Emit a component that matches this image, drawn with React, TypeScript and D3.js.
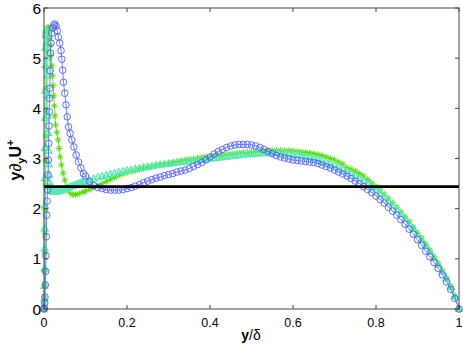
import React from "react";
import * as d3 from "d3";

// ---------- data ----------
const X_TICKS = [0, 0.2, 0.4, 0.6, 0.8, 1];
const X_TICK_LABELS = ["0", "0.2", "0.4", "0.6", "0.8", "1"];
const Y_TICKS = [0, 1, 2, 3, 4, 5, 6];
const Y_TICK_LABELS = ["0", "1", "2", "3", "4", "5", "6"];
const LOG_LAW_LEVEL = 2.44; // 1/kappa

// shared outer grid (y/delta)
const X_OUTER = [
  0.10, 0.11, 0.12, 0.13, 0.14, 0.15, 0.16, 0.17, 0.18, 0.19,
  0.20, 0.21, 0.22, 0.23, 0.24, 0.25, 0.26, 0.27, 0.28, 0.29,
  0.30, 0.31, 0.32, 0.33, 0.34, 0.35, 0.36, 0.37, 0.38, 0.39,
  0.40, 0.41, 0.42, 0.43, 0.44, 0.45, 0.46, 0.47, 0.48, 0.49,
  0.50, 0.51, 0.52, 0.53, 0.54, 0.55, 0.56, 0.57, 0.58, 0.59,
  0.60, 0.61, 0.62, 0.63, 0.64, 0.65, 0.66, 0.67, 0.68, 0.69,
  0.70, 0.71, 0.72, 0.73, 0.74, 0.75, 0.76, 0.77, 0.78, 0.79,
  0.80, 0.81, 0.82, 0.83, 0.84, 0.85, 0.86, 0.87, 0.88, 0.89,
  0.90, 0.91, 0.92, 0.93, 0.94, 0.95, 0.96, 0.97, 0.98, 0.99,
  1.00,
];

// blue circles
const BLUE_NEAR_X = [
  0, 0.0008, 0.0016, 0.0024, 0.0032, 0.004, 0.0048, 0.0056, 0.0064, 0.0075,
  0.0085, 0.0095, 0.0105, 0.0113, 0.012, 0.0127, 0.0134, 0.014, 0.0148, 0.0156,
  0.0168, 0.0185, 0.021, 0.0235, 0.0262, 0.029, 0.032, 0.0345, 0.038, 0.041,
  0.043, 0.045, 0.047, 0.05, 0.053, 0.056, 0.059, 0.063, 0.067, 0.072,
  0.0775, 0.083, 0.089, 0.095,
];
const BLUE_NEAR_V = [
  0, 0.02, 0.12, 0.24, 0.48, 0.75, 1.06, 1.44, 1.87, 2.15,
  2.37, 2.67, 2.97, 3.3, 3.65, 3.93, 4.2, 4.4, 4.75, 5.1,
  5.3, 5.5, 5.6, 5.66, 5.68, 5.64, 5.55, 5.42, 5.3, 5.15,
  4.98, 4.76, 4.52, 4.3, 4.07, 3.83, 3.63, 3.5, 3.37, 3.23,
  3.07, 2.93, 2.81, 2.7,
];
const BLUE_OUTER_V = [
  2.65, 2.54, 2.46, 2.42, 2.40, 2.38, 2.37, 2.37, 2.37, 2.38,
  2.40, 2.42, 2.45, 2.48, 2.52, 2.55, 2.58, 2.61, 2.63, 2.66,
  2.68, 2.70, 2.73, 2.75, 2.77, 2.80, 2.84, 2.88, 2.92, 2.97,
  3.03, 3.09, 3.14, 3.18, 3.22, 3.25, 3.27, 3.28, 3.28, 3.28,
  3.27, 3.25, 3.22, 3.18, 3.14, 3.10, 3.06, 3.03, 3.01, 2.99,
  2.97, 2.96, 2.95, 2.94, 2.93, 2.92, 2.90, 2.87, 2.84, 2.81,
  2.77, 2.73, 2.69, 2.65, 2.60, 2.55, 2.50, 2.44, 2.38, 2.32,
  2.25, 2.18, 2.11, 2.03, 1.95, 1.87, 1.78, 1.69, 1.59, 1.49,
  1.38, 1.27, 1.15, 1.04, 0.93, 0.81, 0.68, 0.54, 0.39, 0.21,
  0.00,
];

// green stars
const GREEN_NEAR_X = [
  0, 0.0004, 0.0008, 0.0012, 0.0016, 0.002, 0.0024, 0.0028, 0.0032, 0.0037,
  0.0042, 0.0047, 0.0052, 0.0057, 0.0063, 0.007, 0.0078, 0.0087, 0.0097, 0.0108,
  0.012, 0.0135, 0.015, 0.017, 0.019, 0.0205, 0.022, 0.0235, 0.025, 0.0265,
  0.028, 0.031, 0.034, 0.0365, 0.039, 0.042, 0.046, 0.05, 0.055, 0.061,
  0.068, 0.076, 0.085, 0.094,
];
const GREEN_NEAR_V = [
  0, 0.02, 0.14, 0.24, 0.48, 0.76, 1.12, 1.51, 1.97, 2.45,
  2.95, 3.45, 3.95, 4.4, 4.8, 5.15, 5.4, 5.55, 5.62, 5.6,
  5.52, 5.4, 5.25, 5.05, 4.85, 4.65, 4.45, 4.25, 4.05, 3.85,
  3.67, 3.52, 3.37, 3.2, 3.03, 2.87, 2.71, 2.57, 2.43, 2.33,
  2.28, 2.28, 2.3, 2.33,
];
const GREEN_OUTER_V = [
  2.35, 2.38, 2.42, 2.46, 2.50, 2.54, 2.58, 2.62, 2.66, 2.69,
  2.72, 2.74, 2.76, 2.78, 2.80, 2.82, 2.84, 2.86, 2.88, 2.89,
  2.91, 2.92, 2.94, 2.95, 2.97, 2.98, 2.99, 3.01, 3.02, 3.03,
  3.04, 3.05, 3.06, 3.07, 3.08, 3.09, 3.10, 3.11, 3.12, 3.12,
  3.13, 3.14, 3.14, 3.15, 3.15, 3.16, 3.16, 3.16, 3.16, 3.16,
  3.15, 3.14, 3.13, 3.12, 3.11, 3.10, 3.08, 3.06, 3.03, 3.00,
  2.97, 2.93, 2.89, 2.82, 2.79, 2.75, 2.70, 2.65, 2.58, 2.51,
  2.44, 2.37, 2.29, 2.21, 2.12, 2.03, 1.94, 1.84, 1.74, 1.63,
  1.52, 1.41, 1.29, 1.17, 1.04, 0.91, 0.77, 0.62, 0.45, 0.25,
  0.00,
];

// aquamarine triangles
const AQUA_NEAR_X = [
  0, 0.0003, 0.0006, 0.0009, 0.0012, 0.0015, 0.0018, 0.0021, 0.0024, 0.0027,
  0.003, 0.0033, 0.0037, 0.0041, 0.0046, 0.0052, 0.0058, 0.0065, 0.0072, 0.0079,
  0.0086, 0.0093, 0.01, 0.0108, 0.0116, 0.0125, 0.0135, 0.0147, 0.016, 0.018,
  0.02, 0.023, 0.026, 0.03, 0.035, 0.04, 0.045, 0.05, 0.055, 0.06,
  0.065, 0.07, 0.075, 0.08, 0.085, 0.09, 0.095,
];
const AQUA_NEAR_V = [
  0, 0.05, 0.2, 0.45, 0.8, 1.2, 1.6, 2.05, 2.6, 3.2,
  3.8, 4.35, 4.85, 5.2, 5.45, 5.55, 5.5, 5.3, 5.0, 4.65,
  4.25, 3.85, 3.5, 3.15, 2.88, 2.67, 2.52, 2.43, 2.38, 2.35,
  2.34, 2.33, 2.33, 2.33, 2.34, 2.35, 2.37, 2.38, 2.40, 2.42,
  2.44, 2.45, 2.47, 2.48, 2.50, 2.51, 2.53,
];
const AQUA_OUTER_V = [
  2.54, 2.56, 2.59, 2.62, 2.64, 2.66, 2.68, 2.70, 2.72, 2.74,
  2.76, 2.77, 2.79, 2.80, 2.82, 2.83, 2.84, 2.86, 2.87, 2.88,
  2.89, 2.90, 2.91, 2.92, 2.93, 2.94, 2.95, 2.96, 2.97, 2.98,
  2.99, 3.00, 3.01, 3.02, 3.03, 3.04, 3.05, 3.06, 3.07, 3.08,
  3.08, 3.09, 3.10, 3.10, 3.10, 3.11, 3.11, 3.10, 3.10, 3.09,
  3.08, 3.07, 3.06, 3.04, 3.02, 3.00, 2.98, 2.95, 2.92, 2.89,
  2.86, 2.82, 2.78, 2.74, 2.70, 2.65, 2.60, 2.55, 2.49, 2.43,
  2.37, 2.30, 2.23, 2.15, 2.07, 1.98, 1.89, 1.80, 1.70, 1.60,
  1.49, 1.38, 1.26, 1.14, 1.01, 0.88, 0.74, 0.60, 0.43, 0.24,
  0.00,
];

const COLOR_BLUE = "#4f5ff0";
const COLOR_GREEN = "#52dc08";
const COLOR_AQUA = "#5ae6b4";

type Pt = [number, number];
const zip = (xs: number[], vs: number[]): Pt[] => xs.map((v, i) => [v, vs[i]]);

const SERIES = [
  { name: "green", color: COLOR_GREEN, marker: "star", pts: [...zip(GREEN_NEAR_X, GREEN_NEAR_V), ...zip(X_OUTER, GREEN_OUTER_V)] },
  { name: "aqua", color: COLOR_AQUA, marker: "tri", pts: [...zip(AQUA_NEAR_X, AQUA_NEAR_V), ...zip(X_OUTER, AQUA_OUTER_V)] },
  { name: "blue", color: COLOR_BLUE, marker: "circle", pts: [...zip(BLUE_NEAR_X, BLUE_NEAR_V), ...zip(X_OUTER, BLUE_OUTER_V)] },
];

const STAR = "M-3.2,0H3.2M0,-3.2V3.2M-2.3,-2.3L2.3,2.3M-2.3,2.3L2.3,-2.3";
const TRI = "M0,-3.8L3.4,2L-3.4,2Z";

export default function App() {
  const L = 44, R = 459, T = 8, B = 309;
  const x = d3.scaleLinear().domain([0, 1]).range([L, R]);
  const y = d3.scaleLinear().domain([0, 6]).range([B, T]);
  const line = d3.line<Pt>().x((d) => x(d[0])).y((d) => y(d[1]));
  const font = "'Liberation Sans', Arial, Helvetica, sans-serif";
  const axisColor = "#444";
  const tick = 4;

  return (
    <svg width={463} height={349} style={{ position: "absolute", left: 0, top: 0, background: "#fff" }} fontFamily={font}>
      <rect x={0} y={0} width={463} height={349} fill="#fff" />
      {SERIES.map((s) => (
        <g key={s.name}>
          <path d={line(s.pts) || ""} fill="none" stroke={s.color} strokeWidth={0.8} />
          {s.pts.map((p, i) => {
            const cx = x(p[0]);
            const cy = y(p[1]);
            if (s.marker === "circle")
              return <circle key={i} cx={cx} cy={cy} r={3.3} fill="none" stroke={s.color} strokeWidth={0.9} />;
            if (s.marker === "star")
              return <path key={i} d={STAR} transform={`translate(${cx},${cy})`} fill="none" stroke={s.color} strokeWidth={1} />;
            return <path key={i} d={TRI} transform={`translate(${cx},${cy})`} fill="none" stroke={s.color} strokeWidth={1.3} />;
          })}
        </g>
      ))}
      <line x1={x(0)} x2={x(1)} y1={y(LOG_LAW_LEVEL)} y2={y(LOG_LAW_LEVEL)} stroke="#000" strokeWidth={2.6} />
      <rect x={L} y={T} width={R - L} height={B - T} fill="none" stroke={axisColor} strokeWidth={1} />
      {X_TICKS.map((t, i) => (
        <g key={"xt" + i}>
          <line x1={x(t)} x2={x(t)} y1={B} y2={B - tick} stroke={axisColor} />
          <line x1={x(t)} x2={x(t)} y1={T} y2={T + tick} stroke={axisColor} />
          <text x={x(t)} y={327} textAnchor="middle" fontSize={12.5} fill="#000">{X_TICK_LABELS[i]}</text>
        </g>
      ))}
      {Y_TICKS.map((t, i) => (
        <g key={"yt" + i}>
          <line x1={L} x2={L + tick} y1={y(t)} y2={y(t)} stroke={axisColor} />
          <line x1={R} x2={R - tick} y1={y(t)} y2={y(t)} stroke={axisColor} />
          <text x={41} y={y(t) + 5.5} textAnchor="end" fontSize={15.5} fill="#000">{Y_TICK_LABELS[i]}</text>
        </g>
      ))}
      <text x={251} y={340} textAnchor="middle" fontSize={14} fill="#000">
        <tspan fontWeight="bold">y</tspan>
        <tspan>/δ</tspan>
      </text>
      <text transform="translate(21,160) rotate(-90)" textAnchor="middle" fontSize={16} fill="#000">
        <tspan fontWeight="bold">y</tspan>
        <tspan>∂</tspan>
        <tspan fontWeight="bold" fontSize={11} dy={3.5}>y</tspan>
        <tspan fontWeight="bold" dy={-3.5}>U</tspan>
        <tspan fontWeight="bold" fontSize={11} dy={-7}>+</tspan>
      </text>
    </svg>
  );
}
